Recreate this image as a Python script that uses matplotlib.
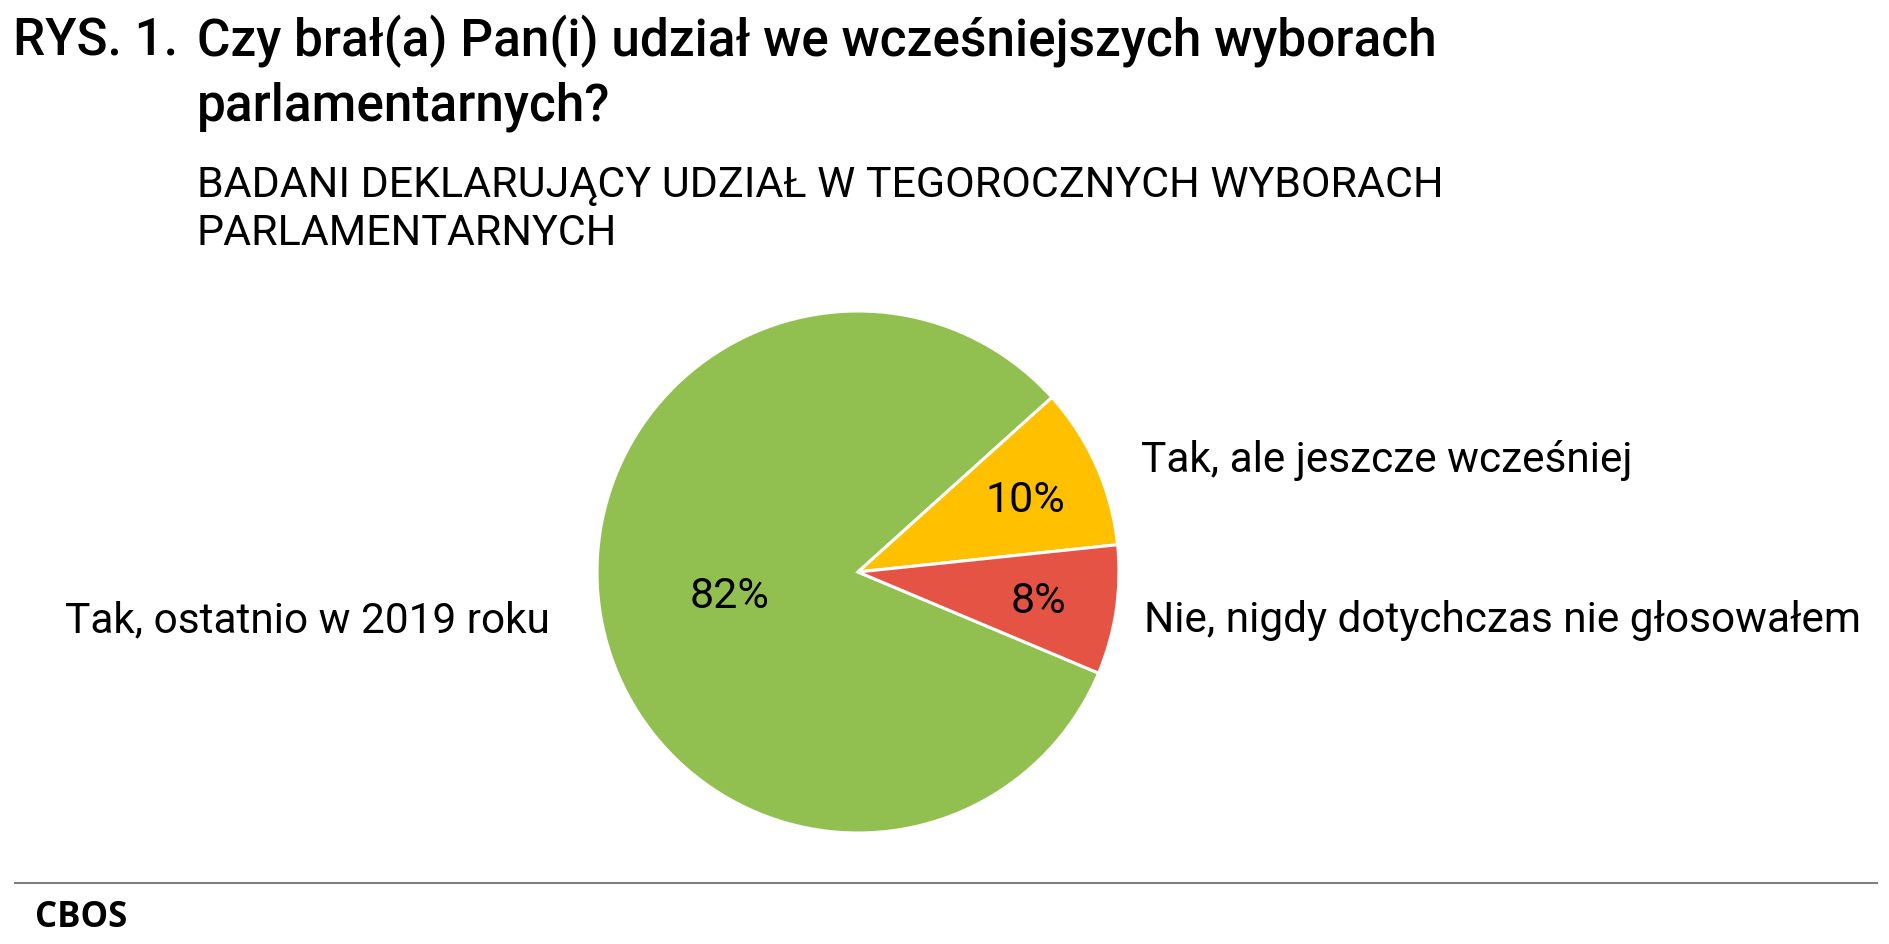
import matplotlib
matplotlib.use("Agg")
import matplotlib.pyplot as plt
from matplotlib.lines import Line2D
import numpy as np

# --- Data ---
categories = ["Tak, ostatnio w 2019 roku", "Tak, ale jeszcze wcześniej",
              "Nie, nigdy dotychczas nie głosowałem"]
values = [82, 10, 8]
colors = ["#92C050", "#FFC000", "#E55344"]

title_num = "RYS. 1."
title_lines = ["Czy brał(a) Pan(i) udział we wcześniejszych wyborach", "parlamentarnych?"]
subtitle_lines = ["BADANI DEKLARUJĄCY UDZIAŁ W TEGOROCZNYCH WYBORACH", "PARLAMENTARNYCH"]
source = "CBOS"

W, H = 1890, 944
plt.rcParams['font.family'] = ['Roboto', 'DejaVu Sans']

fig = plt.figure(figsize=(W / 100, H / 100), dpi=100)

def fx(px):
    return px / W

def fy(py):
    return 1 - py / H

# --- Titles ---
fig.text(fx(13), fy(56), title_num, fontsize=37, fontweight="medium", va="baseline")
for line, base in zip(title_lines, [56, 120]):
    fig.text(fx(197), fy(base), line, fontsize=37, fontweight="medium", va="baseline")
for line, base in zip(subtitle_lines, [197, 245]):
    fig.text(fx(197), fy(base), line, fontsize=31, va="baseline")

# --- Pie ---
cx, cy, r = 858, 572, 261
ax = fig.add_axes([fx(cx - r), fy(cy + r), 2 * r / W, 2 * r / H])
wedges, _ = ax.pie(values, colors=colors, startangle=-22.8, counterclock=False,
                   wedgeprops=dict(edgecolor="white", linewidth=2.2))
ax.set_xlim(-1, 1)
ax.set_ylim(-1, 1)
ax.set_aspect("equal")
ax.axis("off")

# percent labels
pct_dist = [0.5, 0.7, 0.7]
for w, v, d in zip(wedges, values, pct_dist):
    ang = np.deg2rad((w.theta1 + w.theta2) / 2)
    ax.text(d * np.cos(ang), d * np.sin(ang) - 0.01, f"{v}%", fontsize=31,
            ha="center", va="center")

# category labels
ax.text(-1.18, -0.23, categories[0], fontsize=30.5, ha="right", va="baseline")
ax.text(1.085, 0.383, categories[1], fontsize=30.5, ha="left", va="baseline")
ax.text(1.095, -0.23, categories[2], fontsize=30.5, ha="left", va="baseline")

# --- Footer ---
fig.add_artist(Line2D([fx(15), fx(1877)], [fy(883), fy(883)], color="#808080", lw=1.5))
fig.text(fx(35), fy(927), source, fontsize=25, fontweight="bold",
         family=["Open Sans", "DejaVu Sans"], va="baseline")

fig.savefig("out.png", dpi=100)
